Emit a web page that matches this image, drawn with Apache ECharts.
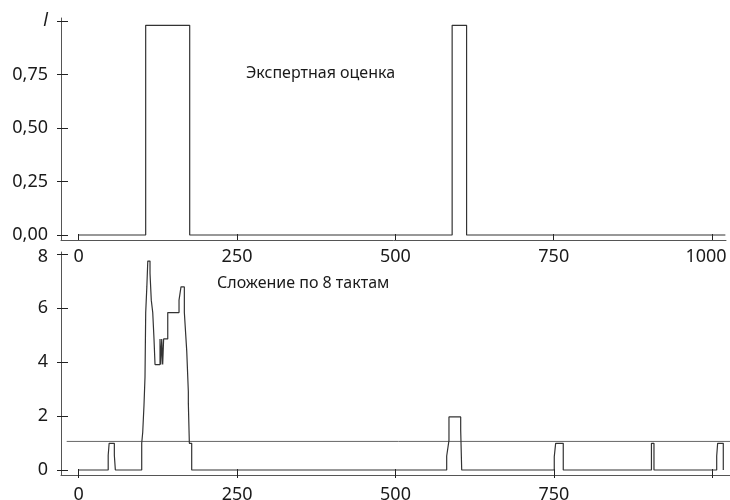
<!DOCTYPE html>
<html>
<head>
<meta charset="utf-8">
<script src="https://cdn.jsdelivr.net/npm/echarts@6/dist/echarts.min.js"></script>
<style>
  html, body { margin: 0; padding: 0; background: #fff; }
  #chart { width: 730px; height: 500px; }
</style>
</head>
<body>
<div id="chart"></div>
<script>
// Expert estimate (upper panel): step outline, [x, value] vertices
const expertX = [0, 105.7, 105.7, 175.2, 175.2, 589.6, 589.6, 612.4, 612.4, 1021];
const expertY = [0, 0, 0.98, 0.98, 0, 0, 0.98, 0.98, 0, 0];

// Sum over 8 cycles (lower panel)
const sumX = [
  0, 46.5, 46.5, 48, 48, 56.2, 56.2, 57.8, 57.8,
  99.4, 99.4, 101, 103, 104.6, 105.7, 105.7, 107.5, 109, 112.5, 112.5, 114.5, 114.5,
  116.8, 118.8, 120.4, 120.4, 128.3, 128.3, 129.5, 129.5, 131, 131, 132.5, 132.5, 134, 134,
  140.5, 140.5, 158.3, 158.3, 161.4, 161.4, 166.7, 166.7, 170.5, 173, 173, 174.6, 178.3, 178.3,
  580.8, 580.8, 584.4, 584.4, 602.9, 602.9, 604.5, 604.5,
  750.6, 750.6, 752.8, 764.8, 764.8,
  904, 904, 908, 908,
  1007, 1007, 1008.5, 1017.4, 1017.4
];
const sumY = [
  0, 0, 0.55, 0.55, 0.99, 0.99, 0.55, 0.55, 0,
  0, 0.99, 1.4, 2.4, 3.45, 3.45, 5.84, 6.8, 7.75, 7.75, 7.3, 7.3, 6.3,
  5.84, 4.86, 4.86, 3.91, 3.91, 4.86, 4.86, 3.91, 3.91, 4.86, 4.86, 3.91, 3.91, 4.86,
  4.86, 5.84, 5.84, 6.3, 6.3, 6.79, 6.79, 5.84, 4.4, 2.9, 2.48, 0.99, 0.99, 0,
  0, 0.52, 1.1, 1.97, 1.97, 1.48, 1.48, 0,
  0, 0.49, 0.99, 0.99, 0,
  0, 0.99, 0.99, 0,
  0, 0.52, 0.99, 0.99, 0
];

// Threshold level in the lower panel
const thresholdX = [-19, 1028];
const thresholdY = [1.06, 1.06];

// Tick values
const xTicks = [0, 250, 500, 750, 1000];
const topYTicks = [0, 0.25, 0.5, 0.75, 1];
const bottomYTicks = [0, 2, 4, 6, 8];

const topTitle = 'Экспертная оценка';
const bottomTitle = 'Сложение по 8 тактам';

const zip = (xs, ys) => xs.map((x, i) => [x, ys[i]]);

const FONT = 'Noto Sans';
const TXT = '#1a1a1a';
const AX = '#555';
const LINE = '#333';

const labelStyle = { fontFamily: FONT, fontSize: 18, color: TXT };
const titleStyle = { fontFamily: FONT, fontSize: 16, fontWeight: 'normal', color: TXT };
const plain = v => String(v);

const chart = echarts.init(document.getElementById('chart'), null, { renderer: 'canvas' });

chart.setOption({
  animation: false,
  backgroundColor: '#fff',
  title: [
    { text: topTitle, left: 241, top: 60, textStyle: titleStyle },
    { text: bottomTitle, left: 212, top: 270, textStyle: titleStyle }
  ],
  grid: [
    { left: 61, top: 18, width: 665, height: 222, outerBoundsMode: 'none' },
    { left: 61, top: 252, width: 669, height: 223, outerBoundsMode: 'none' }
  ],
  xAxis: [
    {
      gridIndex: 0, type: 'value', position: 'bottom', min: -28, max: 1022,
      axisLine: { show: true, onZero: false, lineStyle: { color: AX, width: 1 } },
      axisTick: { show: true, inside: true, length: 6, customValues: xTicks, lineStyle: { color: '#222' } },
      axisLabel: {
        show: true, margin: 8, customValues: xTicks, ...labelStyle,
        // the last label is pulled inward to stay inside the frame
        formatter: v => v === 1000 ? '{edge|1000}' : String(v),
        rich: { edge: { fontFamily: FONT, fontSize: 18, color: TXT, padding: [0, 12, 0, 0] } }
      },
      splitLine: { show: false }
    },
    {
      gridIndex: 1, type: 'value', position: 'bottom', min: -28, max: 1028,
      axisLine: { show: true, onZero: false, lineStyle: { color: AX, width: 1 } },
      axisTick: { show: true, inside: true, length: 6, customValues: xTicks, lineStyle: { color: '#222' } },
      axisLabel: { show: true, margin: 11, customValues: xTicks.slice(0, 4), formatter: plain, ...labelStyle },
      splitLine: { show: false }
    },
    {
      gridIndex: 1, type: 'value', position: 'bottom', min: -28, max: 1028,
      axisLine: { show: false, onZero: false },
      axisTick: { show: true, inside: false, length: 3, customValues: xTicks, lineStyle: { color: '#222' } },
      axisLabel: { show: false },
      splitLine: { show: false }
    }
  ],
  yAxis: [
    {
      gridIndex: 0, type: 'value', position: 'left', min: -0.0234, max: 1.014,
      axisLine: { show: true, onZero: false, lineStyle: { color: AX, width: 1 } },
      axisTick: { show: true, inside: false, length: 4, customValues: topYTicks, lineStyle: { color: '#222' } },
      axisLabel: {
        show: true, margin: 13, customValues: topYTicks, ...labelStyle,
        formatter: v => v === 1 ? '{i|l}' : v.toFixed(2).replace('.', ','),
        rich: { i: { fontFamily: FONT, fontSize: 18, fontStyle: 'italic', color: TXT } }
      },
      splitLine: { show: false }
    },
    {
      gridIndex: 0, type: 'value', position: 'left', min: -0.0234, max: 1.014,
      axisLine: { show: false, onZero: false },
      axisTick: { show: true, inside: true, length: 7, customValues: topYTicks, lineStyle: { color: '#222' } },
      axisLabel: { show: false },
      splitLine: { show: false }
    },
    {
      gridIndex: 1, type: 'value', position: 'left', min: -0.185, max: 8.085,
      axisLine: { show: true, onZero: false, lineStyle: { color: AX, width: 1 } },
      axisTick: { show: true, inside: false, length: 4, customValues: bottomYTicks, lineStyle: { color: '#222' } },
      axisLabel: {
        show: true, margin: 13, customValues: bottomYTicks, ...labelStyle,
        // the topmost label sits a little below its tick
        formatter: v => v === 8 ? '{low|8}' : String(v),
        rich: { low: { fontFamily: FONT, fontSize: 18, color: TXT, padding: [6, 0, 0, 0] } }
      },
      splitLine: { show: false }
    },
    {
      gridIndex: 1, type: 'value', position: 'left', min: -0.185, max: 8.085,
      axisLine: { show: false, onZero: false },
      axisTick: { show: true, inside: true, length: 7, customValues: bottomYTicks, lineStyle: { color: '#222' } },
      axisLabel: { show: false },
      splitLine: { show: false }
    }
  ],
  series: [
    {
      name: topTitle, type: 'line', xAxisIndex: 0, yAxisIndex: 0,
      data: zip(expertX, expertY), showSymbol: false, silent: true,
      lineStyle: { color: LINE, width: 1.2 }
    },
    {
      name: 'threshold', type: 'line', xAxisIndex: 1, yAxisIndex: 2,
      data: zip(thresholdX, thresholdY), showSymbol: false, silent: true,
      lineStyle: { color: '#666', width: 1 }
    },
    {
      name: bottomTitle, type: 'line', xAxisIndex: 1, yAxisIndex: 2,
      data: zip(sumX, sumY), showSymbol: false, silent: true,
      lineStyle: { color: LINE, width: 1.2 }
    }
  ]
});
</script>
</body>
</html>
